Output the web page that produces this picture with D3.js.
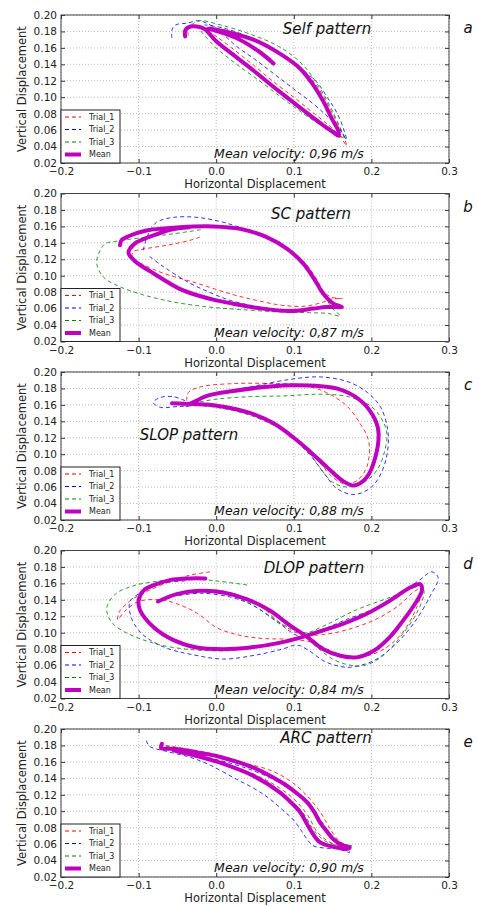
<!DOCTYPE html>
<html>
<head>
<meta charset="utf-8">
<script src="https://cdn.jsdelivr.net/npm/d3@7"></script>
<style>
  body { margin: 0; background: #fff; }
  svg { font-family: "DejaVu Sans", sans-serif; }
</style>
</head>
<body>
<svg class="figsvg"></svg>
<script>
// ---- data ----
const patterns = ['Self pattern', 'SC pattern', 'SLOP pattern', 'DLOP pattern', 'ARC pattern'];
const letters = ['a', 'b', 'c', 'd', 'e'];
const velocities = ['0,96', '0,87', '0,88', '0,84', '0,90'];
const seriesNames = ['Trial_1', 'Trial_2', 'Trial_3', 'Mean'];
const xTicks = [-0.2, -0.1, 0.0, 0.1, 0.2, 0.3];
const yTicks = [0.02, 0.04, 0.06, 0.08, 0.10, 0.12, 0.14, 0.16, 0.18, 0.20];

const selfTrial1 = [[-0.036,0.175],[-0.036,0.183],[-0.030,0.186],[-0.018,0.185],[0.000,0.174],[0.020,0.160],[0.048,0.139],[0.075,0.118],[0.100,0.100],[0.125,0.081],[0.145,0.066],[0.160,0.052],[0.168,0.041],[0.162,0.058],[0.152,0.076],[0.140,0.098],[0.128,0.116],[0.112,0.133],[0.085,0.151],[0.050,0.170],[0.015,0.181],[-0.015,0.185]];
const selfTrial2 = [[-0.057,0.172],[-0.057,0.182],[-0.052,0.188],[-0.038,0.190],[-0.022,0.193],[-0.008,0.188],[0.005,0.180],[0.026,0.162],[0.050,0.146],[0.075,0.128],[0.100,0.110],[0.125,0.092],[0.145,0.075],[0.160,0.060],[0.168,0.048],[0.164,0.062],[0.155,0.082],[0.143,0.100],[0.130,0.118],[0.110,0.134],[0.080,0.153],[0.045,0.172],[0.010,0.184],[-0.015,0.188]];
const selfTrial3 = [[-0.032,0.188],[-0.021,0.193],[0.005,0.188],[0.040,0.178],[0.080,0.162],[0.110,0.141],[0.133,0.112],[0.150,0.083],[0.162,0.058],[0.166,0.050],[0.152,0.058],[0.128,0.070],[0.095,0.092],[0.060,0.117],[0.025,0.141],[0.000,0.160],[-0.015,0.175],[-0.022,0.183]];
const selfMean = [[-0.040,0.174],[-0.040,0.181],[-0.036,0.185],[-0.025,0.186],[-0.015,0.183],[0.000,0.168],[0.020,0.153],[0.050,0.131],[0.080,0.108],[0.110,0.086],[0.135,0.068],[0.150,0.058],[0.158,0.053],[0.157,0.060],[0.149,0.074],[0.138,0.095],[0.125,0.115],[0.108,0.135],[0.082,0.153],[0.048,0.170],[0.015,0.179],[-0.010,0.184],[-0.004,0.182],[0.026,0.172],[0.056,0.155],[0.074,0.141]];

const scTrial1 = [[-0.021,0.147],[-0.034,0.143],[-0.064,0.137],[-0.090,0.133],[-0.107,0.129],[-0.108,0.122],[-0.095,0.114],[-0.068,0.103],[-0.025,0.091],[0.018,0.078],[0.052,0.070],[0.085,0.064],[0.115,0.063],[0.138,0.068],[0.150,0.072],[0.163,0.072],[0.148,0.074],[0.138,0.082],[0.128,0.098],[0.115,0.115],[0.095,0.132],[0.068,0.147],[0.035,0.157],[0.000,0.161],[-0.035,0.160],[-0.065,0.157]];
const scTrial2 = [[-0.094,0.131],[-0.090,0.145],[-0.085,0.155],[-0.077,0.165],[-0.055,0.171],[-0.025,0.171],[0.005,0.166],[0.030,0.159],[0.060,0.150],[0.088,0.136],[0.110,0.118],[0.126,0.098],[0.138,0.080],[0.150,0.068],[0.160,0.064],[0.140,0.062],[0.110,0.059],[0.080,0.059],[0.050,0.063],[0.018,0.070],[-0.004,0.078],[-0.034,0.091],[-0.068,0.111],[-0.088,0.125]];
const scTrial3 = [[-0.020,0.156],[-0.055,0.151],[-0.090,0.147],[-0.128,0.142],[-0.143,0.139],[-0.150,0.130],[-0.154,0.115],[-0.145,0.098],[-0.125,0.087],[-0.095,0.077],[-0.055,0.068],[-0.010,0.062],[0.030,0.059],[0.080,0.056],[0.120,0.055],[0.145,0.054],[0.160,0.051],[0.150,0.060],[0.140,0.075],[0.130,0.092],[0.115,0.112],[0.095,0.130],[0.070,0.145],[0.040,0.155],[0.010,0.160],[-0.020,0.161]];
const scMean = [[-0.124,0.137],[-0.122,0.143],[-0.113,0.148],[-0.090,0.155],[-0.047,0.159],[-0.004,0.160],[0.031,0.157],[0.065,0.147],[0.091,0.133],[0.112,0.115],[0.127,0.095],[0.138,0.078],[0.151,0.066],[0.162,0.062],[0.142,0.062],[0.125,0.060],[0.095,0.057],[0.052,0.061],[0.022,0.066],[0.000,0.070],[-0.020,0.075],[-0.047,0.084],[-0.081,0.103],[-0.105,0.118],[-0.113,0.128],[-0.105,0.139],[-0.081,0.149],[-0.059,0.156],[-0.034,0.159]];

const slopTrial1 = [[-0.038,0.165],[-0.036,0.175],[-0.020,0.182],[0.026,0.186],[0.069,0.186],[0.112,0.184],[0.142,0.175],[0.168,0.159],[0.185,0.138],[0.196,0.118],[0.197,0.097],[0.192,0.080],[0.180,0.067],[0.165,0.064],[0.150,0.072],[0.135,0.088],[0.118,0.106],[0.098,0.122],[0.072,0.138],[0.040,0.150],[0.005,0.158],[-0.025,0.161]];
const slopTrial2 = [[-0.040,0.165],[-0.055,0.170],[-0.072,0.169],[-0.081,0.163],[-0.072,0.157],[-0.050,0.158],[-0.010,0.159],[0.030,0.153],[0.065,0.141],[0.095,0.122],[0.120,0.100],[0.138,0.078],[0.156,0.058],[0.178,0.051],[0.200,0.060],[0.214,0.080],[0.221,0.105],[0.221,0.130],[0.212,0.157],[0.195,0.175],[0.170,0.188],[0.134,0.194],[0.095,0.191],[0.050,0.183],[0.010,0.175],[-0.020,0.168]];
const slopTrial3 = [[-0.030,0.162],[0.000,0.167],[0.044,0.170],[0.090,0.171],[0.134,0.173],[0.170,0.170],[0.200,0.158],[0.215,0.140],[0.220,0.124],[0.216,0.100],[0.208,0.082],[0.194,0.068],[0.170,0.060],[0.150,0.066],[0.135,0.082],[0.118,0.104],[0.098,0.121],[0.070,0.137],[0.035,0.150],[0.000,0.157],[-0.030,0.160]];
const slopMean = [[-0.057,0.162],[-0.030,0.161],[0.001,0.159],[0.044,0.150],[0.075,0.137],[0.100,0.120],[0.120,0.104],[0.143,0.084],[0.164,0.067],[0.178,0.062],[0.194,0.072],[0.205,0.096],[0.209,0.128],[0.202,0.147],[0.185,0.166],[0.155,0.180],[0.100,0.184],[0.065,0.182],[0.022,0.177],[-0.012,0.171],[-0.030,0.163],[-0.038,0.160]];

const dlopTrial1 = [[-0.008,0.174],[-0.034,0.170],[-0.060,0.162],[-0.090,0.150],[-0.112,0.138],[-0.125,0.125],[-0.127,0.116],[-0.118,0.126],[-0.100,0.138],[-0.072,0.140],[-0.050,0.135],[-0.025,0.124],[0.001,0.106],[0.030,0.097],[0.060,0.093],[0.095,0.092],[0.125,0.088],[0.150,0.077],[0.170,0.071],[0.190,0.071],[0.216,0.080],[0.240,0.100],[0.258,0.130],[0.266,0.155],[0.255,0.150],[0.235,0.133],[0.205,0.116],[0.170,0.104],[0.140,0.098],[0.110,0.098],[0.085,0.110],[0.060,0.130],[0.030,0.145],[0.000,0.152],[-0.030,0.152]];
const dlopTrial2 = [[-0.040,0.163],[-0.070,0.160],[-0.095,0.150],[-0.111,0.138],[-0.110,0.120],[-0.100,0.103],[-0.085,0.091],[-0.060,0.080],[-0.034,0.074],[0.009,0.068],[0.052,0.073],[0.085,0.080],[0.104,0.085],[0.120,0.078],[0.138,0.066],[0.155,0.060],[0.172,0.058],[0.203,0.066],[0.230,0.085],[0.255,0.112],[0.276,0.145],[0.286,0.167],[0.278,0.174],[0.262,0.164],[0.240,0.150],[0.205,0.130],[0.165,0.115],[0.135,0.103],[0.110,0.095],[0.080,0.112],[0.050,0.132],[0.020,0.143],[-0.020,0.148],[-0.050,0.145]];
const dlopTrial3 = [[0.040,0.158],[0.000,0.163],[-0.040,0.166],[-0.080,0.162],[-0.107,0.157],[-0.130,0.147],[-0.141,0.130],[-0.135,0.113],[-0.118,0.101],[-0.090,0.090],[-0.055,0.082],[0.009,0.078],[0.060,0.084],[0.095,0.092],[0.115,0.094],[0.130,0.082],[0.150,0.068],[0.170,0.061],[0.190,0.060],[0.212,0.070],[0.240,0.098],[0.260,0.127],[0.268,0.150],[0.264,0.157],[0.248,0.152],[0.224,0.143],[0.181,0.128],[0.138,0.108],[0.115,0.100],[0.090,0.108],[0.065,0.123],[0.040,0.137],[0.010,0.148],[-0.020,0.152]];
const dlopMean = [[-0.075,0.138],[-0.051,0.147],[-0.021,0.151],[0.009,0.149],[0.039,0.141],[0.069,0.127],[0.095,0.109],[0.117,0.095],[0.138,0.080],[0.160,0.072],[0.181,0.070],[0.203,0.078],[0.224,0.095],[0.241,0.115],[0.256,0.135],[0.265,0.151],[0.263,0.159],[0.250,0.155],[0.224,0.139],[0.194,0.123],[0.164,0.111],[0.138,0.103],[0.112,0.095],[0.078,0.087],[0.044,0.082],[0.009,0.080],[-0.025,0.082],[-0.055,0.091],[-0.081,0.107],[-0.098,0.127],[-0.100,0.139],[-0.094,0.151],[-0.077,0.159],[-0.060,0.164],[-0.034,0.166],[-0.014,0.166]];

const arcTrial1 = [[-0.065,0.180],[-0.040,0.176],[0.000,0.169],[0.035,0.159],[0.069,0.150],[0.095,0.137],[0.117,0.119],[0.134,0.099],[0.146,0.080],[0.158,0.064],[0.172,0.057],[0.160,0.058],[0.145,0.063],[0.130,0.075],[0.118,0.095],[0.100,0.115],[0.070,0.135],[0.030,0.152],[-0.010,0.164],[-0.045,0.172]];
const arcTrial2 = [[-0.090,0.186],[-0.086,0.179],[-0.065,0.173],[-0.035,0.166],[-0.010,0.157],[0.026,0.139],[0.050,0.127],[0.069,0.115],[0.085,0.102],[0.099,0.090],[0.110,0.076],[0.117,0.066],[0.125,0.058],[0.142,0.055],[0.158,0.054],[0.172,0.050],[0.168,0.056],[0.152,0.066],[0.140,0.082],[0.126,0.100],[0.105,0.120],[0.075,0.138],[0.040,0.152],[0.000,0.163],[-0.040,0.171]];
const arcTrial3 = [[-0.065,0.179],[-0.030,0.173],[0.010,0.166],[0.050,0.153],[0.085,0.136],[0.110,0.117],[0.128,0.096],[0.140,0.080],[0.152,0.066],[0.165,0.059],[0.175,0.058],[0.160,0.058],[0.140,0.064],[0.125,0.078],[0.112,0.098],[0.095,0.114],[0.065,0.133],[0.025,0.152],[-0.015,0.165],[-0.045,0.172]];
const arcMean = [[-0.070,0.182],[-0.071,0.177],[-0.055,0.176],[-0.038,0.174],[-0.015,0.170],[0.005,0.166],[0.048,0.153],[0.075,0.140],[0.091,0.131],[0.105,0.121],[0.117,0.111],[0.127,0.098],[0.134,0.086],[0.143,0.075],[0.151,0.066],[0.162,0.059],[0.172,0.056],[0.168,0.054],[0.155,0.056],[0.134,0.062],[0.121,0.078],[0.108,0.099],[0.095,0.112],[0.082,0.123],[0.048,0.143],[0.005,0.159],[-0.020,0.166],[-0.038,0.170],[-0.055,0.174]];

const curves = [
  [selfTrial1, selfTrial2, selfTrial3, selfMean],
  [scTrial1, scTrial2, scTrial3, scMean],
  [slopTrial1, slopTrial2, slopTrial3, slopMean],
  [dlopTrial1, dlopTrial2, dlopTrial3, dlopMean],
  [arcTrial1, arcTrial2, arcTrial3, arcMean]
];

// ---- layout ----
const dims = { width: 478, height: 906, left: 61, plotW: 388, plotH: 148, top: 15, step: 178.5 };
// pattern title position inside each panel (px, relative to plot origin)
const titlePos = [[266, 14], [250, 20], [128, 63], [253, 17], [265, 9]];
const colors = ['#ff0000', '#0000ff', '#008000', '#bf00bf'];

const svg = d3.select('.figsvg')
  .attr('width', dims.width)
  .attr('height', dims.height);

const x = d3.scaleLinear().domain([-0.2, 0.3]).range([0, dims.plotW]);
const y = d3.scaleLinear().domain([0.02, 0.20]).range([dims.plotH, 0]);

const line = d3.line()
  .x(d => x(d[0]))
  .y(d => y(d[1]))
  .curve(d3.curveCatmullRom.alpha(0.5));

patterns.forEach((name, i) => {
  const g = svg.append('g')
    .attr('transform', `translate(${dims.left}, ${dims.top + i * dims.step})`);

  g.append('clipPath').attr('id', 'clip' + i)
    .append('rect').attr('width', dims.plotW).attr('height', dims.plotH);

  // grid
  g.append('g').selectAll('line.gx')
    .data(xTicks).enter().append('line')
    .attr('x1', d => x(d)).attr('x2', d => x(d))
    .attr('y1', 0).attr('y2', dims.plotH)
    .attr('stroke', '#aaa').attr('stroke-width', 0.8)
    .attr('stroke-dasharray', '1,2');
  g.append('g').selectAll('line.gy')
    .data(yTicks).enter().append('line')
    .attr('y1', d => y(d)).attr('y2', d => y(d))
    .attr('x1', 0).attr('x2', dims.plotW)
    .attr('stroke', '#aaa').attr('stroke-width', 0.8)
    .attr('stroke-dasharray', '1,2');

  // axes
  const xAxis = g.append('g')
    .attr('transform', `translate(0, ${dims.plotH})`)
    .call(d3.axisBottom(x).tickValues(xTicks).tickSize(-4).tickPadding(5)
      .tickFormat(d3.format('.1f')));
  const yAxis = g.append('g')
    .call(d3.axisLeft(y).tickValues(yTicks).tickSize(-4).tickPadding(4)
      .tickFormat(d3.format('.2f')));
  g.append('g').call(d3.axisTop(x).tickValues(xTicks).tickSize(-4).tickFormat(''));
  g.append('g').attr('transform', `translate(${dims.plotW}, 0)`)
    .call(d3.axisRight(y).tickValues(yTicks).tickSize(-4).tickFormat(''));
  g.selectAll('.domain').remove();
  g.selectAll('.tick line').attr('stroke', '#333');
  [xAxis, yAxis].forEach(a => a.selectAll('text')
    .attr('fill', '#222')
    .style('font-size', '10.5px')
    .style('font-family', '"DejaVu Sans", sans-serif'));

  // curves
  const lines = g.append('g').attr('clip-path', `url(#clip${i})`);
  curves[i].forEach((pts, k) => {
    const mean = k === 3;
    lines.append('path')
      .attr('d', line(pts))
      .attr('fill', 'none')
      .attr('stroke', colors[k])
      .attr('stroke-width', mean ? 4 : 1)
      .attr('stroke-opacity', mean ? 1 : 0.8)
      .attr('stroke-linejoin', 'round')
      .attr('stroke-linecap', mean ? 'round' : 'butt')
      .attr('stroke-dasharray', mean ? null : '4,3');
  });

  // frame
  g.append('rect')
    .attr('width', dims.plotW).attr('height', dims.plotH)
    .attr('fill', 'none').attr('stroke', '#444').attr('stroke-width', 1);

  // texts
  g.append('text')
    .attr('x', titlePos[i][0]).attr('y', titlePos[i][1])
    .attr('dy', '0.35em')
    .attr('text-anchor', 'middle')
    .attr('fill', '#111')
    .style('font-size', '15px').style('font-style', 'italic')
    .text(name);
  g.append('text')
    .attr('x', 228).attr('y', 139)
    .attr('dy', '0.35em')
    .attr('text-anchor', 'middle')
    .attr('fill', '#111')
    .style('font-size', '12.5px').style('font-style', 'italic')
    .text(`Mean velocity: ${velocities[i]} m/s`);
  g.append('text')
    .attr('x', 407).attr('y', 13)
    .attr('dy', '0.35em')
    .attr('text-anchor', 'middle')
    .attr('fill', '#111')
    .style('font-size', '15px').style('font-style', 'italic')
    .text(letters[i]);
  g.append('text')
    .attr('x', dims.plotW / 2).attr('y', dims.plotH + 25)
    .attr('text-anchor', 'middle')
    .attr('fill', '#222')
    .style('font-size', '11.5px')
    .text('Horizontal Displacement');
  g.append('text')
    .attr('transform', `translate(${22 - dims.left}, ${dims.plotH / 2}) rotate(-90)`)
    .attr('dy', '0.35em')
    .attr('text-anchor', 'middle')
    .attr('fill', '#222')
    .style('font-size', '11.5px')
    .text('Vertical Displacement');

  // legend
  const lg = g.append('g').attr('transform', `translate(0, ${dims.plotH - 53})`);
  lg.append('rect')
    .attr('width', 59).attr('height', 53)
    .attr('fill', '#fff').attr('stroke', '#222').attr('stroke-width', 1);
  seriesNames.forEach((s, k) => {
    const yy = 7 + k * 12.5;
    lg.append('line')
      .attr('x1', 4).attr('x2', 20).attr('y1', yy).attr('y2', yy)
      .attr('stroke', colors[k])
      .attr('stroke-width', k === 3 ? 4 : 1)
      .attr('stroke-dasharray', k === 3 ? null : '4,3');
    lg.append('text')
      .attr('x', 28).attr('y', yy).attr('dy', '0.35em')
      .attr('fill', '#222')
      .style('font-size', '8px')
      .text(s);
  });
});
</script>
</body>
</html>
